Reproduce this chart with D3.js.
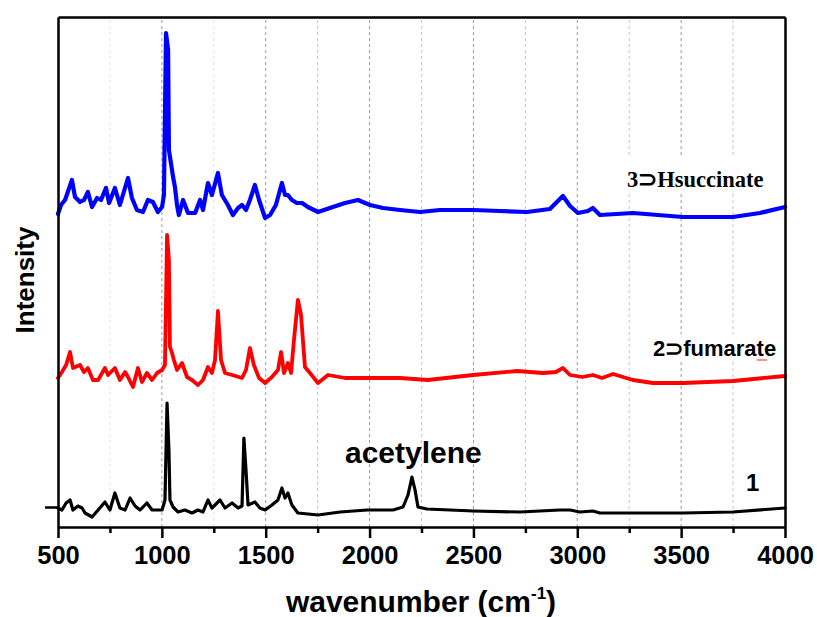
<!DOCTYPE html>
<html>
<head>
<meta charset="utf-8">
<script src="https://cdn.jsdelivr.net/npm/d3@7"></script>
<style>
  html, body { margin: 0; padding: 0; background: #fff; }
  svg { display: block; }
</style>
</head>
<body>
<svg id="chart" width="817" height="617"></svg>
<script>
// ---- data (intensity in arbitrary units) ----
const majorTicks = [500, 1000, 1500, 2000, 2500, 3000, 3500, 4000];
const minorTicks = [750, 1250, 1750, 2250, 2750, 3250, 3750];

const succinateWn = [500,514,534,567,582,606,625,644,664,688,707,731,746,774,798,837,856,880,909,933,957,981,1001,1010,1020,1030,1034,1054,1063,1073,1082,1102,1126,1160,1184,1198,1222,1241,1270,1289,1318,1342,1367,1386,1405,1424,1448,1468,1497,1521,1549,1578,1593,1607,1626,1650,1675,1703,1752,1809,1882,1944,2002,2065,2146,2243,2339,2498,2628,2758,2868,2897,2931,2965,3003,3051,3075,3109,3268,3509,3749,3879,4000];
const succinateInt = [313,322,327,347,330,325,327,335,320,329,327,339,324,339,322,349,329,317,315,327,325,315,320,332,494,477,377,350,340,322,312,327,314,314,327,317,344,332,354,332,322,312,319,322,317,327,342,327,309,312,322,344,332,332,327,324,324,320,315,319,324,327,322,319,317,315,317,317,316,315,318,324,331,321,314,316,319,312,314,310,310,314,320];

const fumarateWn = [500,519,539,558,572,606,625,644,668,693,726,741,774,798,823,837,861,885,904,928,953,977,1001,1015,1025,1034,1039,1049,1058,1073,1097,1121,1145,1174,1198,1222,1241,1256,1270,1285,1304,1338,1386,1405,1424,1443,1468,1497,1530,1559,1574,1588,1607,1622,1636,1655,1670,1689,1713,1752,1800,1882,1954,2146,2281,2498,2710,2835,2897,2931,2965,3023,3075,3119,3172,3268,3364,3509,3749,4000];
const fumarateInt = [149,155,162,175,159,162,155,159,147,147,159,152,159,147,155,150,140,159,145,154,147,154,157,162,292,267,180,174,167,157,164,150,147,142,147,160,154,167,216,167,154,152,149,157,179,162,149,144,150,157,175,154,164,154,187,227,212,160,154,144,152,149,149,149,147,152,156,154,155,159,152,150,152,149,153,147,144,144,146,151];

const sample1Wn = [500,519,539,558,572,596,616,630,664,693,726,750,774,798,823,847,871,895,928,953,1001,1015,1025,1034,1039,1054,1078,1111,1145,1174,1198,1222,1241,1256,1280,1304,1338,1367,1386,1395,1405,1415,1448,1472,1497,1530,1559,1578,1593,1607,1626,1655,1752,1858,1988,2113,2161,2185,2204,2219,2233,2276,2498,2724,2917,2965,3013,3075,3109,3268,3509,3749,4000];
const sample1Int = [19,17,24,27,17,21,19,14,10,17,25,17,34,19,17,29,21,17,24,17,17,27,124,77,27,20,15,17,14,17,15,27,19,22,27,19,24,19,21,89,57,22,25,19,17,22,27,39,29,34,22,14,12,15,17,17,20,32,50,37,20,18,16,15,17,17,15,16,14,14,14,15,19];

const baselineTick = [20];
const seriesNames = ["3\u2283Hsuccinate", "2\u2283fumarate", "1"];

// ---- layout ----
const svg = d3.select("#chart");
const x = d3.scaleLinear().domain([500, 4000]).range([58, 785]);
const y = d3.scaleLinear().domain([0, 510]).range([527, 17]);

// grid lines
svg.append("g").selectAll("line")
  .data(minorTicks.concat(majorTicks.filter(d => d > 500 && d < 4000)))
  .join("line")
  .attr("x1", d => x(d)).attr("x2", d => x(d))
  .attr("y1", y(0)).attr("y2", y(510))
  .attr("stroke", d => (d % 500 === 0) ? "#9a9a9a" : ((d === 750 || d === 1250) ? "#e2e2e2" : "#c4c4c4"))
  .attr("stroke-width", 1)
  .attr("stroke-dasharray", "3,3");

// white boxes behind the labels
svg.append("rect").attr("x", 620).attr("y", 157).attr("width", 150).attr("height", 37).attr("fill", "#fff");
svg.append("rect").attr("x", 648).attr("y", 334).attr("width", 126).attr("height", 28).attr("fill", "#fff");

// spectra
function drawLine(wn, inten, color, width) {
  const pts = wn.map((w, i) => [w, inten[i]]);
  svg.append("path")
    .datum(pts)
    .attr("fill", "none")
    .attr("stroke", color)
    .attr("stroke-width", width)
    .attr("stroke-linejoin", "round")
    .attr("stroke-linecap", "round")
    .attr("d", d3.line().x(d => x(d[0])).y(d => y(d[1])));
}
drawLine(sample1Wn, sample1Int, "#000000", 3.2);
drawLine(fumarateWn, fumarateInt, "#ff0000", 3.8);
drawLine(succinateWn, succinateInt, "#0000ff", 4.2);

// axes
const axisFont = "'Liberation Sans', Arial, sans-serif";
const gMinor = svg.append("g").attr("transform", `translate(0,${y(0)})`)
  .call(d3.axisBottom(x).tickValues(minorTicks).tickSize(6).tickSizeOuter(0).tickFormat(""));
gMinor.select(".domain").remove();
gMinor.selectAll("line").attr("stroke", "#000").attr("stroke-width", 2.5);

const gx = svg.append("g").attr("transform", `translate(0,${y(0)})`)
  .call(d3.axisBottom(x).tickValues(majorTicks).tickSize(11).tickSizeOuter(0).tickPadding(8).tickFormat(d3.format("d")));
gx.select(".domain").attr("stroke", "#000").attr("stroke-width", 2.5);
gx.selectAll("line").attr("stroke", "#000").attr("stroke-width", 2.5);
gx.selectAll("text")
  .attr("font-family", axisFont).attr("font-weight", "bold")
  .attr("font-size", 25.5).attr("fill", "#000");

const gy = svg.append("g").attr("transform", `translate(${x(500)},0)`)
  .call(d3.axisLeft(y).tickValues(baselineTick).tickSize(13).tickSizeOuter(0).tickFormat(""));
gy.select(".domain").attr("stroke", "#000").attr("stroke-width", 2.5);
gy.selectAll("line").attr("stroke", "#000").attr("stroke-width", 2.5);

const gr = svg.append("g").attr("transform", `translate(${x(4000)},0)`)
  .call(d3.axisRight(y).tickValues([]).tickSizeOuter(0));
gr.select(".domain").attr("stroke", "#000").attr("stroke-width", 2.5);

const gt = svg.append("g").attr("transform", `translate(0,${y(510)})`)
  .call(d3.axisTop(x).tickValues([]).tickSizeOuter(0));
gt.select(".domain").attr("stroke", "#000").attr("stroke-width", 2.5);

// axis titles
const xt = svg.append("text")
  .attr("x", 421).attr("y", 612)
  .attr("text-anchor", "middle")
  .attr("font-family", axisFont).attr("font-weight", "bold").attr("font-size", 30)
  .attr("fill", "#000");
xt.append("tspan").text("wavenumber (cm");
xt.append("tspan").attr("dy", -13).attr("font-size", 17).text("-1");
xt.append("tspan").attr("dy", 13).text(")");

svg.append("text")
  .attr("transform", "translate(34,280) rotate(-90)")
  .attr("text-anchor", "middle")
  .attr("font-family", axisFont).attr("font-weight", "bold").attr("font-size", 26)
  .attr("fill", "#000")
  .text("Intensity");

// series labels
svg.append("text")
  .attr("x", 627).attr("y", 187)
  .attr("font-family", "'Liberation Serif', 'Times New Roman', serif")
  .attr("font-weight", "bold").attr("font-size", 22.5).attr("fill", "#000")
  .text(seriesNames[0]);

svg.append("text")
  .attr("x", 653).attr("y", 356)
  .attr("font-family", axisFont)
  .attr("font-weight", "bold").attr("font-size", 22).attr("fill", "#000")
  .text(seriesNames[1]);
svg.append("line")
  .attr("x1", 757).attr("x2", 767).attr("y1", 360).attr("y2", 360)
  .attr("stroke", "#ff4040").attr("stroke-width", 1.2);

svg.append("text")
  .attr("x", 345).attr("y", 463)
  .attr("font-family", axisFont)
  .attr("font-weight", "bold").attr("font-size", 30).attr("fill", "#000")
  .text("acetylene");

svg.append("text")
  .attr("x", 746).attr("y", 491)
  .attr("font-family", axisFont)
  .attr("font-weight", "bold").attr("font-size", 24).attr("fill", "#000")
  .text(seriesNames[2]);
</script>
</body>
</html>
